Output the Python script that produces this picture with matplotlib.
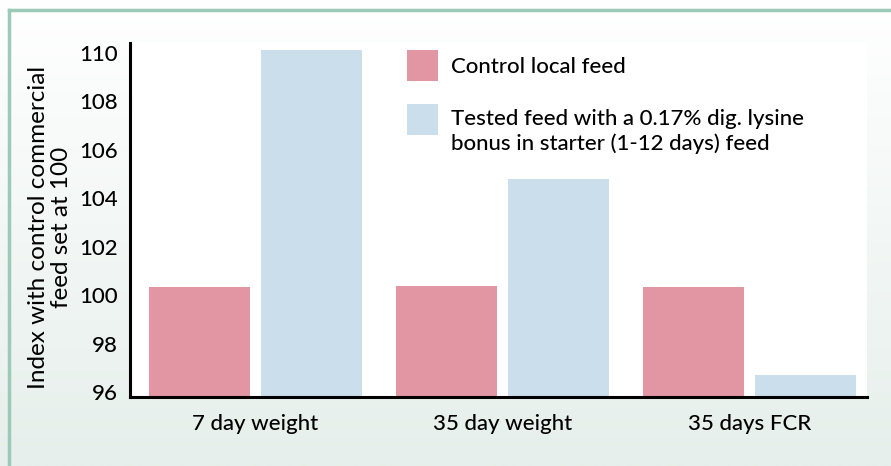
import numpy as np
import matplotlib
matplotlib.use("Agg")
import matplotlib.pyplot as plt
from matplotlib.lines import Line2D
from matplotlib.patches import Rectangle
from matplotlib.legend_handler import HandlerPatch

categories = ["7 day weight", "35 day weight", "35 days FCR"]
series_names = ["Control local feed",
                "Tested feed with a 0.17% dig. lysine\nbonus in starter (1-12 days) feed"]
control = [100.35, 100.38, 100.32]
tested = [110.12, 104.78, 96.72]
yticks = [96, 98, 100, 102, 104, 106, 108, 110]

plt.rcParams['font.family'] = ['Lato', 'DejaVu Sans']
plt.rcParams['font.weight'] = 'medium'

fig = plt.figure(figsize=(8.91, 4.66), dpi=100)

# background gradient
bg = fig.add_axes([0, 0, 1, 1], zorder=-10)
grad = np.linspace(0, 1, 256)[:, None]
top = np.array([1.0, 1.0, 1.0])
bot = np.array([230, 239, 235]) / 255.0
img = top[None, None, :] * (1 - grad[:, :, None]) + bot[None, None, :] * grad[:, :, None]
bg.imshow(img, aspect='auto', extent=[0, 1, 0, 1], origin='upper')
bg.set_xlim(0, 1); bg.set_ylim(0, 1)
bg.axis('off')

# frame lines (top and left)
fc = '#9ccab8'
fig.add_artist(Line2D([8.5/891, 1], [1 - 10/466, 1 - 10/466], color=fc, lw=2.5, transform=fig.transFigure))
fig.add_artist(Line2D([8.5/891, 8.5/891], [0, 1 - 10/466], color=fc, lw=2.5, transform=fig.transFigure))

ax = fig.add_axes([130/891, 1 - 397/466, (867 - 130)/891, (397 - 43)/466])
ax.set_facecolor('white')
x = np.arange(len(categories))
w = 0.41
b1 = ax.bar(x - 0.227, control, width=w, color='#e296a3', label=series_names[0])
b2 = ax.bar(x + 0.227, tested, width=w, color='#cbdeeb', label=series_names[1])
ax.set_ylim(95.8, 110.41)
ax.set_xlim(-0.508, 2.476)
ax.set_yticks(yticks)
ax.set_yticklabels([str(v) for v in yticks])
ax.set_xticks(x)
ax.set_xticklabels(categories)
ax.tick_params(axis='both', length=0, labelsize=16, colors='black')
ax.tick_params(axis='y', pad=8.5)
ax.tick_params(axis='x', pad=12)
for s in ['top', 'right']:
    ax.spines[s].set_visible(False)
for s in ['left', 'bottom']:
    ax.spines[s].set_linewidth(2.2)
    ax.spines[s].set_color('black')
ax.set_ylabel("Index with control commercial\nfeed set at 100", fontsize=17.5, linespacing=1.12)
ax.yaxis.set_label_coords(-0.079, 0.48)


def shifted_rect(dy):
    def f(legend, orig_handle, xdescent, ydescent, width, height, fontsize):
        return Rectangle((-xdescent, -ydescent + dy), width, height)
    return f


h1 = b1.patches[0]
h2 = b2.patches[0]
leg = ax.legend([h1, h2], series_names, loc='upper left', bbox_to_anchor=(407/891, 1 - 50/466),
                bbox_transform=fig.transFigure,
                frameon=False, fontsize=16, handlelength=1.39, handleheight=1.77,
                handletextpad=0.6, labelspacing=1.25, borderpad=0, borderaxespad=0,
                handler_map={h2: HandlerPatch(patch_func=shifted_rect(9.5))})
leg.get_texts()[1].set_linespacing(1.3)

fig.savefig("out.png", dpi=100, facecolor=fig.get_facecolor())
